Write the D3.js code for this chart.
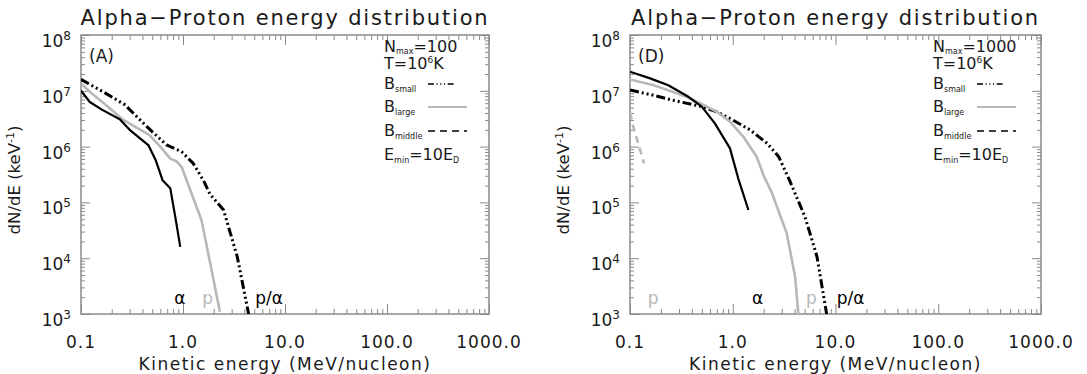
<!DOCTYPE html>
<html>
<head>
<meta charset="utf-8">
<script src="https://cdn.jsdelivr.net/npm/d3@7"></script>
<style>
	body { margin: 0; background: #fff; }
	text { font-family: "DejaVu Sans", sans-serif; fill: #1a1a1a; }
</style>
</head>
<body>
<svg id="chart" width="1087" height="374"></svg>
<script>
// tick labels
var xTickValues = [0.1, 1, 10, 100, 1000]
var xTickLabels = ["0.1", "1.0", "10.0", "100.0", "1000.0"]
var yExponents = [3, 4, 5, 6, 7, 8]

// panel A (Nmax = 100): [energy MeV/nucleon, dN/dE]
var alphaA = [[0.1,1.0e7],[0.122,6.3e6],[0.16,4.6e6],[0.24,3.1e6],[0.30,2.0e6],[0.46,1.05e6],[0.54,5.7e5],[0.63,2.5e5],[0.75,1.8e5],[0.84,5.5e4],[0.94,1.6e4]]
var protonA = [[0.1,1.36e7],[0.122,9.6e6],[0.19,4.9e6],[0.26,3.0e6],[0.365,2.1e6],[0.47,1.6e6],[0.62,9.3e5],[0.75,6.1e5],[0.87,5.4e5],[0.97,4.3e5],[1.52,4.8e4],[2.3,1.1e3]]
var ratioA = [[0.1,1.6e7],[0.165,9.6e6],[0.27,5.6e6],[0.44,2.3e6],[0.69,1.07e6],[0.97,8.1e5],[1.26,5.0e5],[1.6,2.4e5],[1.84,1.4e5],[2.5,7.3e4],[3.4,1.07e4],[4.4,1.0e3]]

// panel D (Nmax = 1000)
var alphaD = [[0.1,2.2e7],[0.157,1.67e7],[0.236,1.26e7],[0.37,7.8e6],[0.5,5.2e6],[0.67,2.6e6],[0.94,9.3e5],[1.13,2.7e5],[1.42,7.3e4]]
var protonD = [[0.1,1.6e7],[0.17,1.26e7],[0.26,9.6e6],[0.38,7.4e6],[0.52,5.6e6],[0.7,4.2e6],[0.94,2.8e6],[1.27,1.5e6],[1.71,6.6e5],[2.0,3.0e5],[2.4,1.5e5],[3.35,2.8e4],[4.04,4.7e3],[4.35,1.0e3]]
var ratioD = [[0.1,1.03e7],[0.17,8.3e6],[0.26,6.8e6],[0.48,5.3e6],[0.7,4.2e6],[1.0,3.0e6],[1.47,2.0e6],[2.15,1.15e6],[2.8,6.6e5],[3.6,2.4e5],[5.05,5.5e4],[6.6,1.07e4],[8.2,1.0e3]]
var protonMidD = [[0.1,4.0e6],[0.108,2.2e6],[0.137,5.0e5]]

var grey = "#b8b8b8"
var styles = {
	alpha: {color: "#000", width: 2.2, dash: null},
	proton: {color: grey, width: 2.6, dash: null},
	ratio: {color: "#000", width: 3, dash: "9,3,2,3,2,3,2,3"},
	protonMid: {color: grey, width: 2.6, dash: "7,5"}
}

// species labels: [text, energy, colour]
var panels = [
	{left: 81, right: 489, tag: "(A)", nmax: "100",
		series: [["ratio", ratioA], ["proton", protonA], ["alpha", alphaA]],
		labels: [["α", 0.82, "#000"], ["p", 1.54, grey], ["p/α", 5.1, "#000"]]},
	{left: 630, right: 1041, tag: "(D)", nmax: "1000",
		series: [["ratio", ratioD], ["proton", protonD], ["alpha", alphaD], ["protonMid", protonMidD]],
		labels: [["p", 0.149, grey], ["α", 1.54, "#000"], ["p", 5.16, grey], ["p/α", 10.3, "#000"]]}
]

var plotTop = 35, plotBottom = 314
var axisColor = "#8a8a8a"
var svg = d3.select("#chart")

panels.forEach(function(p, i){
	var x = d3.scaleLog().domain([0.1, 1000]).range([p.left, p.right])
	var y = d3.scaleLog().domain([1e3, 1e8]).range([plotBottom, plotTop])
	var g = svg.append("g")

	var clipId = "clip" + i
	g.append("clipPath").attr("id", clipId).append("rect")
		.attr("x", p.left).attr("y", plotTop).attr("width", p.right - p.left).attr("height", plotBottom - plotTop)

	// minor / major ticks
	var xMinor = [], yMinor = []
	for(var d = -1; d < 3; d++) for(var k = 2; k < 10; k++) xMinor.push(k * Math.pow(10, d))
	for(var e = 3; e < 8; e++) for(var k = 2; k < 10; k++) yMinor.push(k * Math.pow(10, e))
	var yMajor = yExponents.map(function(e){ return Math.pow(10, e) })

	function ticks(axis, scale, vals, size, tx, ty){
		g.append("g").attr("transform", "translate(" + tx + "," + ty + ")")
			.call(axis(scale).tickValues(vals).tickSize(size).tickFormat(""))
			.call(function(s){
				s.select(".domain").remove()
				s.selectAll("line").attr("stroke", axisColor)
			})
	}
	ticks(d3.axisBottom, x, xTickValues, -10, 0, plotBottom)
	ticks(d3.axisBottom, x, xMinor, -5, 0, plotBottom)
	ticks(d3.axisTop, x, xTickValues, -10, 0, plotTop)
	ticks(d3.axisTop, x, xMinor, -5, 0, plotTop)
	ticks(d3.axisLeft, y, yMajor, -9, p.left, 0)
	ticks(d3.axisLeft, y, yMinor, -4, p.left, 0)
	ticks(d3.axisRight, y, yMajor, -9, p.right, 0)
	ticks(d3.axisRight, y, yMinor, -4, p.right, 0)

	g.append("rect").attr("x", p.left).attr("y", plotTop)
		.attr("width", p.right - p.left).attr("height", plotBottom - plotTop)
		.attr("fill", "none").attr("stroke", axisColor).attr("stroke-width", 1.5)

	// tick labels
	g.selectAll(".xl").data(xTickValues).join("text")
		.attr("x", function(d){ return x(d) }).attr("y", 348)
		.attr("text-anchor", "middle").attr("font-size", 17).attr("letter-spacing", 1)
		.text(function(d, j){ return xTickLabels[j] })
	var yl = g.selectAll(".yl").data(yExponents).join("text")
		.attr("x", p.left - 10).attr("y", function(d){ return y(Math.pow(10, d)) + 12 })
		.attr("text-anchor", "end").attr("font-size", 17)
	yl.append("tspan").text("10")
	yl.append("tspan").attr("dy", -7).attr("font-size", 12).text(function(d){ return d })

	// titles
	var cx = (p.left + p.right) / 2
	g.append("text").attr("x", cx).attr("y", 25).attr("text-anchor", "middle")
		.attr("font-size", 21).attr("letter-spacing", 1.8).text("Alpha−Proton energy distribution")
	g.append("text").attr("x", cx).attr("y", 370).attr("text-anchor", "middle")
		.attr("font-size", 17).attr("letter-spacing", 1.5).text("Kinetic energy (MeV/nucleon)")
	var yt = g.append("text").attr("transform", "translate(" + (p.left - 61) + ",180) rotate(-90)")
		.attr("text-anchor", "middle").attr("font-size", 16.5)
	yt.append("tspan").text("dN/dE (keV")
	yt.append("tspan").attr("dy", -6).attr("font-size", 11).text("-1")
	yt.append("tspan").attr("dy", 6).text(")")

	// curves
	var line = d3.line()
		.x(function(d){ return x(d[0]) })
		.y(function(d){ return y(d[1]) })
	g.append("g").attr("clip-path", "url(#" + clipId + ")")
		.selectAll("path").data(p.series).join("path")
			.attr("d", function(s){ return line(s[1]) })
			.attr("fill", "none")
			.attr("stroke", function(s){ return styles[s[0]].color })
			.attr("stroke-width", function(s){ return styles[s[0]].width })
			.attr("stroke-dasharray", function(s){ return styles[s[0]].dash })
			.attr("stroke-linejoin", "round")

	// species labels near bottom
	g.selectAll(".sl").data(p.labels).join("text")
		.attr("x", function(d){ return x(d[1]) }).attr("y", 304)
		.attr("font-size", 17).style("fill", function(d){ return d[2] })
		.text(function(d){ return d[0] })

	g.append("text").attr("x", p.left + 8).attr("y", 62).attr("font-size", 17).text(p.tag)

	// legend block
	var lx = p.left + 303
	var t1 = g.append("text").attr("x", lx).attr("y", 52).attr("font-size", 16)
	t1.append("tspan").text("N")
	t1.append("tspan").attr("font-size", 8).attr("dy", 2).text("max")
	t1.append("tspan").attr("dy", -2).text("=" + p.nmax)
	var t2 = g.append("text").attr("x", lx).attr("y", 69).attr("font-size", 16)
	t2.append("tspan").text("T=10")
	t2.append("tspan").attr("font-size", 9).attr("dy", -6).text("6")
	t2.append("tspan").attr("dy", 6).text("K")

	var legendRows = [
		["small", 89, "#000", 1.5, "6,2.5,1.2,2.5,1.2,2.5,1.2,2.5", 26],
		["large", 112, grey, 2, null, 39],
		["middle", 136, "#000", 1.3, "7,5", 39]
	]
	legendRows.forEach(function(r){
		var t = g.append("text").attr("x", lx).attr("y", r[1]).attr("font-size", 16)
		t.append("tspan").text("B")
		t.append("tspan").attr("font-size", 8).attr("dy", 3).text(r[0])
		g.append("line").attr("x1", lx + 44).attr("x2", lx + 44 + r[5])
			.attr("y1", r[1] - 5).attr("y2", r[1] - 5)
			.attr("stroke", r[2]).attr("stroke-width", r[3])
			.attr("stroke-dasharray", r[4])
	})
	var t3 = g.append("text").attr("x", lx).attr("y", 160).attr("font-size", 16)
	t3.append("tspan").text("E")
	t3.append("tspan").attr("font-size", 8).attr("dy", 3).text("min")
	t3.append("tspan").attr("dy", -3).text("=10E")
	t3.append("tspan").attr("font-size", 8).attr("dy", 3).text("D")
})
</script>
</body>
</html>
